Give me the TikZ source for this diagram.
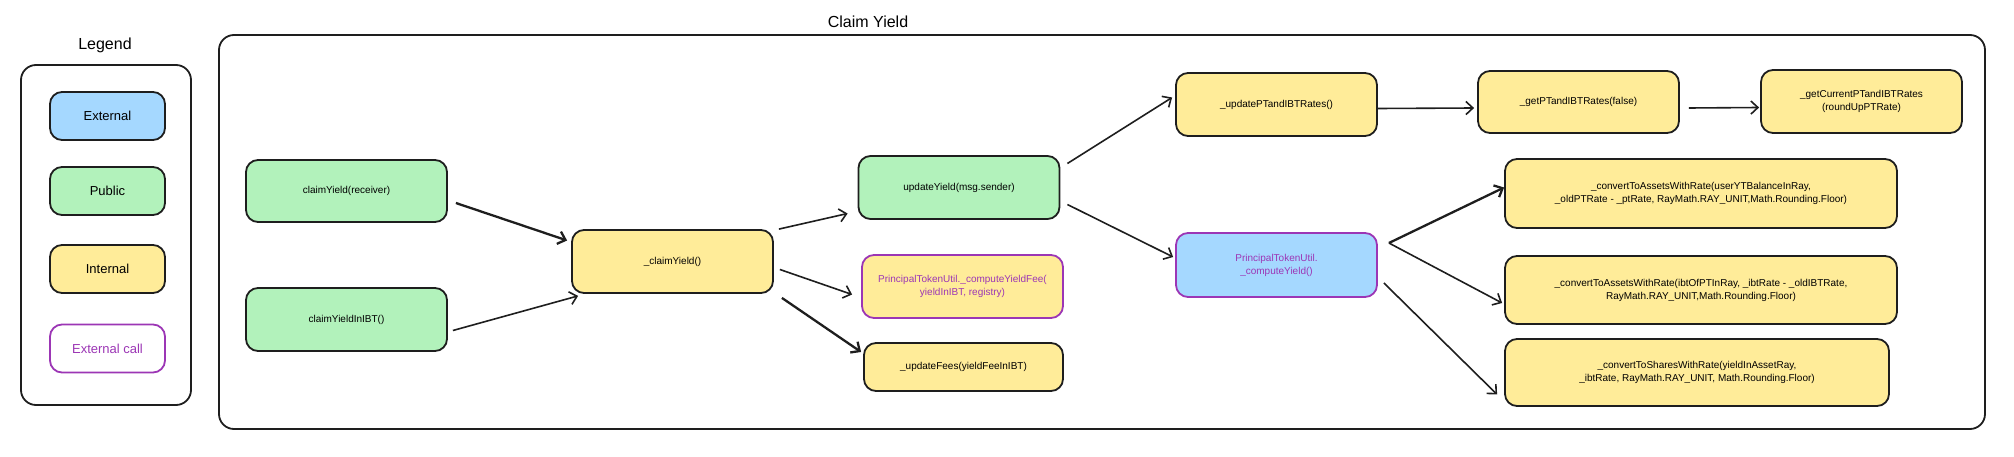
\documentclass[tikz,border=0pt]{standalone}
\usepackage{fontspec}
\setmainfont{Liberation Sans}
\usetikzlibrary{arrows.meta}

\definecolor{extblue}{HTML}{A5D8FF}
\definecolor{pubgreen}{HTML}{B2F2BB}
\definecolor{intyellow}{HTML}{FFEC99}
\definecolor{callviolet}{HTML}{9C36B5}
\definecolor{inkblack}{HTML}{1E1E1E}

\begin{document}
\begin{tikzpicture}[x=1pt,y=-1pt,
    fn/.style={draw=inkblack, line width=1.8pt, rounded corners=12pt, align=center,
               font=\fontsize{10}{13}\selectfont, inner sep=0pt,
               minimum width=201pt, minimum height=63pt},
    extfn/.style={fn, fill=extblue},
    pubfn/.style={fn, fill=pubgreen},
    intfn/.style={fn, fill=intyellow},
    callfn/.style={draw=callviolet, text=callviolet},
    legitem/.style={minimum width=115pt, minimum height=48pt, font=\fontsize{13}{15}\selectfont},
    frame/.style={draw=inkblack, line width=1.8pt, rounded corners=15pt},
    arr/.style={draw=inkblack, line width=1.6pt, -{Straight Barb[length=7pt,width=13pt]}},
    thickarr/.style={arr, line width=2.3pt},
    heading/.style={font=\fontsize{16}{18}\selectfont}]
    \useasboundingbox (0,0) rectangle (2014,457);

    % Legend
    \node[heading] (legendTitle) at (105,45) {Legend};
    \draw[frame] (21,65) rectangle (191,405);
    \node[extfn, legitem] (legExt) at (107.5,116) {External};
    \node[pubfn, legitem] (legPub) at (107.5,191) {Public};
    \node[intfn, legitem] (legInt) at (107.5,269) {Internal};
    \node[fn, callfn, fill=white, legitem] (legCall) at (107.5,348.5) {External call};

    % Claim Yield frame
    \node[heading] (frameTitle) at (868,22) {Claim Yield};
    \draw[frame] (219,35) rectangle (1985,429);

    % Entry points
    \node[pubfn, minimum height=62pt] (claimRecv) at (346.5,191) {claimYield(receiver)};
    \node[pubfn] (claimIBT) at (346.5,319.5) {claimYieldInIBT()};
    \node[intfn] (claimInt) at (672.5,261.5) {\_claimYield()};

    % Second level
    \node[pubfn] (updYield) at (959,187.5) {updateYield(msg.sender)};
    \node[intfn, callfn] (compFee) at (962.5,286.5)
        {PrincipalTokenUtil.\_computeYieldFee(\\yieldInIBT, registry)};
    \node[intfn, minimum width=199pt, minimum height=48pt] (updFees) at (963.5,367)
        {\_updateFees(yieldFeeInIBT)};

    % Third level
    \node[intfn] (updRates) at (1276.5,104.5) {\_updatePTandIBTRates()};
    \node[extfn, callfn, minimum height=64pt] (compYield) at (1276.5,265)
        {PrincipalTokenUtil.\\\_computeYield()};
    \node[intfn, minimum height=62pt] (getRates) at (1578.5,102) {\_getPTandIBTRates(false)};
    \node[intfn] (getCurr) at (1861.5,101.5) {\_getCurrentPTandIBTRates\\(roundUpPTRate)};

    % Conversions
    \node[intfn, minimum width=392pt, minimum height=69pt] (convA) at (1701,193.5)
        {\_convertToAssetsWithRate(userYTBalanceInRay,\\\_oldPTRate - \_ptRate, RayMath.RAY\_UNIT,Math.Rounding.Floor)};
    \node[intfn, minimum width=392pt, minimum height=68pt] (convB) at (1701,290)
        {\_convertToAssetsWithRate(ibtOfPTInRay, \_ibtRate - \_oldIBTRate,\\RayMath.RAY\_UNIT,Math.Rounding.Floor)};
    \node[intfn, minimum width=384pt, minimum height=67pt] (convS) at (1697,372.5)
        {\_convertToSharesWithRate(yieldInAssetRay,\\\_ibtRate, RayMath.RAY\_UNIT, Math.Rounding.Floor)};

    % Calls
    \draw[thickarr] ([xshift=8pt,yshift=-12pt]claimRecv.east) -- ([xshift=-4pt,yshift=21pt]claimInt.west);
    \draw[arr] ([xshift=5pt,yshift=-11pt]claimIBT.east) -- ([xshift=7pt,yshift=-2pt]claimInt.south west);
    \draw[arr] ([xshift=5pt]claimInt.north east) -- ([xshift=-10pt,yshift=-26pt]updYield.west);
    \draw[arr] ([xshift=6pt,yshift=-8pt]claimInt.east) -- ([xshift=-9pt,yshift=-8pt]compFee.west);
    \draw[thickarr] ([xshift=8pt,yshift=-4pt]claimInt.south east) -- ([xshift=-2pt,yshift=15pt]updFees.west);
    \draw[arr] ([xshift=7pt,yshift=24pt]updYield.east) -- ([xshift=-3pt,yshift=7pt]updRates.west);
    \draw[arr] ([xshift=7pt,yshift=-17pt]updYield.east) -- ([xshift=-2pt,yshift=8pt]compYield.west);
    \draw[arr] ([yshift=-4pt]updRates.east) -- ([xshift=-3pt,yshift=-6pt]getRates.west);
    \draw[arr] ([xshift=9pt,yshift=-6pt]getRates.east) -- ([xshift=-1pt,yshift=-6pt]getCurr.west);
    \draw[thickarr] ([xshift=11pt,yshift=22pt]compYield.east) -- ([yshift=6pt]convA.west);
    \draw[arr] ([xshift=11pt,yshift=22pt]compYield.east) -- ([xshift=-2pt,yshift=-13pt]convB.west);
    \draw[arr] ([xshift=6pt,yshift=-18pt]compYield.east) -- ([xshift=-7pt,yshift=-22pt]convS.west);
\end{tikzpicture}
\end{document}
